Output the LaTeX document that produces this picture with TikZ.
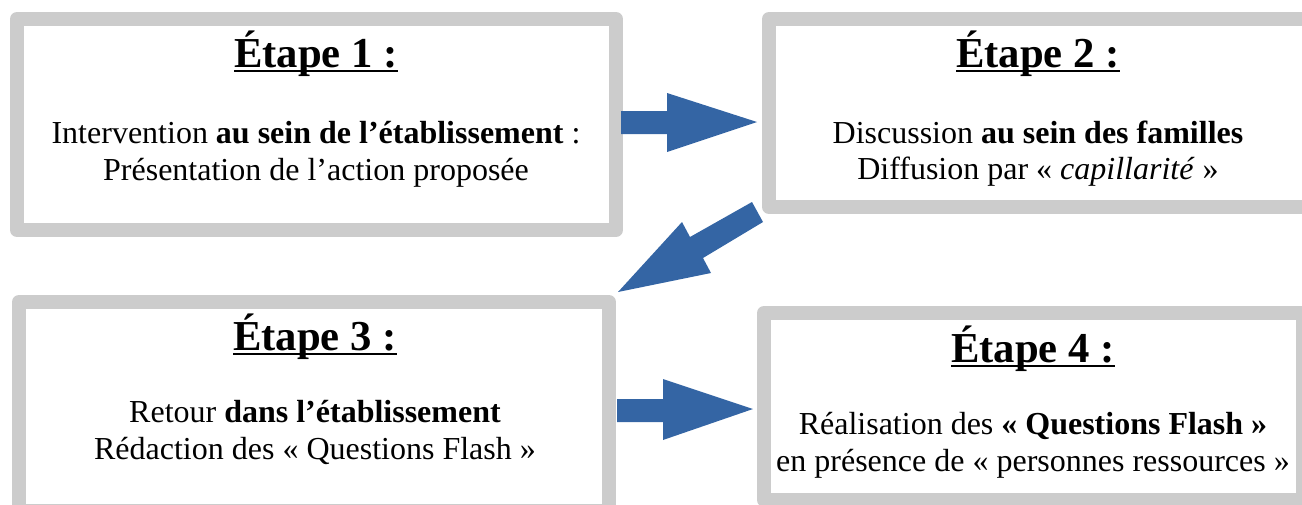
\documentclass[tikz,border=0pt]{standalone}
\usepackage{fontspec}
\setmainfont{Liberation Serif}
\definecolor{bordgray}{RGB}{204,204,204}
\definecolor{arrblue}{RGB}{52,101,164}
\newcommand\myul[1]{\setbox0\hbox{#1}\rlap{\rule[-0.115em]{\wd0}{0.055em}}\box0}
\tikzset{
  stepbox/.style={draw=bordgray, line width=14pt, line join=round, fill=white, inner sep=0pt, outer sep=0pt},
  titletext/.style={anchor=base, inner sep=0pt, font=\fontsize{42.67}{49}\selectfont\bfseries},
  bodytext/.style={anchor=base, inner sep=0pt, font=\fontsize{32}{37}\selectfont},
  blockarrow/.style={fill=arrblue, draw=none}
}
\begin{document}
\begin{tikzpicture}[x=1pt, y=-1pt]
\useasboundingbox (0,0) rectangle (1302,504);
\begin{scope}
\clip (0,0) rectangle (1302,504);
% boxes
\node[stepbox, minimum width=599pt, minimum height=211pt] (b1) at (316.5,124.5) {};
\node[stepbox, minimum width=540pt, minimum height=188pt] (b2) at (1039,113) {};
\node[stepbox, minimum width=590pt, minimum height=209pt] (b3) at (314,406.5) {};
\node[stepbox, minimum width=539pt, minimum height=187pt] (b4) at (1033.5,406.5) {};
\end{scope}
% texts box 1
\node[titletext] (t1) at (316,67) {\myul{Étape 1 :}};
\node[bodytext] (l1a) at (316,143) {Intervention \textbf{au sein de l’établissement} :};
\node[bodytext] (l1b) at (316,180) {Présentation de l’action proposée};
% box 2
\node[titletext] (t2) at (1038,67) {\myul{Étape 2 :}};
\node[bodytext] (l2a) at (1038,143) {Discussion \textbf{au sein des familles}};
\node[bodytext] (l2b) at (1038,179) {Diffusion par « \textit{capillarité} »};
% box 3
\node[titletext] (t3) at (315,350) {\myul{Étape 3 :}};
\node[bodytext] (l3a) at (315,422) {Retour \textbf{dans l’établissement}};
\node[bodytext] (l3b) at (315,459) {Rédaction des « Questions Flash »};
% box 4
\node[titletext] (t4) at (1033,362) {\myul{Étape 4 :}};
\node[bodytext] (l4a) at (1033,434) {Réalisation des \textbf{« Questions Flash »}};
\node[bodytext] (l4b) at (1033,471) {en présence de « personnes ressources »};
% arrows
\fill[blockarrow] (621,111) -- (667,111) -- (667,93) -- (757,122) -- (667,152) -- (667,134) -- (621,134) -- cycle;
\fill[blockarrow] (752,202) -- (763,222) -- (703,258) -- (711,273) -- (618,292) -- (682,222) -- (690,237) -- cycle;
\fill[blockarrow] (617,399) -- (663,399) -- (663,379) -- (753,409) -- (663,440) -- (663,422) -- (617,422) -- cycle;
\end{tikzpicture}
\end{document}
